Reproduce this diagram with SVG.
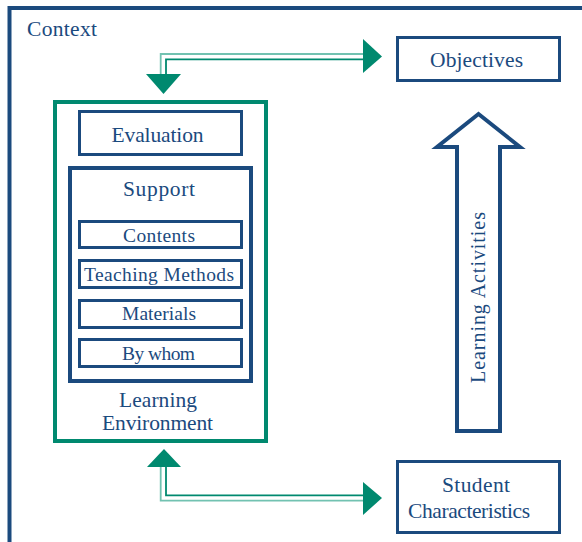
<svg xmlns="http://www.w3.org/2000/svg" width="582" height="542" viewBox="0 0 582 542">
<style>
.nb{fill:#fff;stroke:#1B4A7E;stroke-width:3}
text{font-family:'Liberation Serif','Times New Roman',serif;fill:#1B4A7E;font-size:21.5px;text-anchor:middle}
.s{font-size:19.5px}
.lt{fill:none;stroke:#72C2B1;stroke-width:1.8}
.dk{fill:none;stroke:#00896F;stroke-width:1.8}
.ah{fill:#00896F}
</style>
<rect width="582" height="542" fill="#fff"/>
<g id="context">
<rect x="9.5" y="8" width="620" height="600" fill="none" stroke="#1B4A7E" stroke-width="4"/>
<text x="27" y="36" style="text-anchor:start" textLength="70" lengthAdjust="spacing">Context</text>
</g>
<g id="objectives">
<rect class="nb" x="397.5" y="37.5" width="162" height="43"/>
<text x="476.5" y="67" textLength="93" lengthAdjust="spacing">Objectives</text>
</g>
<g id="learning-environment">
<rect x="55" y="102" width="211" height="339" fill="#fff" stroke="#00896F" stroke-width="4"/>
<text x="158" y="407" textLength="78" lengthAdjust="spacing">Learning</text>
<text x="157.5" y="430" textLength="111" lengthAdjust="spacing">Environment</text>
</g>
<g id="evaluation">
<rect class="nb" x="79.5" y="111.5" width="162" height="43"/>
<text x="157.5" y="142" textLength="92" lengthAdjust="spacing">Evaluation</text>
</g>
<g id="support">
<rect x="70" y="168" width="181" height="213" fill="#fff" stroke="#1B4A7E" stroke-width="4"/>
<text x="159" y="196" textLength="72" lengthAdjust="spacing">Support</text>
</g>
<g id="contents">
<rect class="nb" x="79.5" y="221.5" width="162" height="26"/>
<text class="s" x="159" y="242" textLength="72" lengthAdjust="spacing">Contents</text>
</g>
<g id="teaching-methods">
<rect class="nb" x="79.5" y="260.5" width="162" height="27"/>
<text class="s" x="159" y="281" textLength="150" lengthAdjust="spacing">Teaching Methods</text>
</g>
<g id="materials">
<rect class="nb" x="79.5" y="300.5" width="162" height="27"/>
<text class="s" x="159" y="320" textLength="74" lengthAdjust="spacing">Materials</text>
</g>
<g id="by-whom">
<rect class="nb" x="79.5" y="339.5" width="162" height="27"/>
<text class="s" x="158.5" y="360" textLength="73" lengthAdjust="spacing">By whom</text>
</g>
<g id="student-characteristics">
<rect class="nb" x="397.5" y="461.5" width="162" height="71"/>
<text x="476" y="492" textLength="68" lengthAdjust="spacing">Student</text>
<text x="469" y="518" textLength="122" lengthAdjust="spacing">Characteristics</text>
</g>
<g id="learning-activities">
<polygon points="478.5,114 520,147 500,147 500,431 457,431 457,147 437,147" fill="#fff" stroke="#1B4A7E" stroke-width="4" stroke-linejoin="miter"/>
<text transform="translate(485,297.5) rotate(-90)" x="0" y="0" style="font-size:20px" textLength="171" lengthAdjust="spacing">Learning Activities</text>
</g>
<g id="connectors">
<path class="lt" d="M364 54 H160.7 V76"/>
<path class="dk" d="M364 59.3 H166 V76"/>
<polygon class="ah" points="146,74 181,74 163.5,94"/>
<polygon class="ah" points="363,39 363,73 382,56.5"/>
<path class="lt" d="M160.7 466 V500.7 H364"/>
<path class="dk" d="M166 466 V495.3 H364"/>
<polygon class="ah" points="147,467 181,467 164,449"/>
<polygon class="ah" points="363,482 363,515 382,498"/>
</g>
</svg>
